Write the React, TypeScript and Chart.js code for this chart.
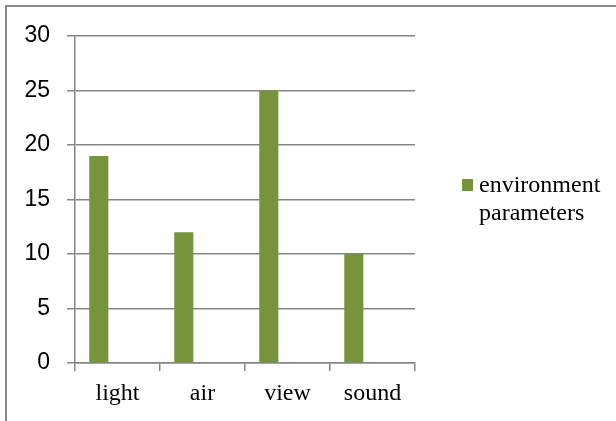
import React, { useEffect, useRef } from "react";
import { Chart, registerables } from "chart.js";

Chart.register(...registerables);

const categories = ["light", "air", "view", "sound"];
const seriesLabel = "environment parameters";
const seriesValues = [19, 12, 25, 10];
const yTickValues = [0, 5, 10, 15, 20, 25, 30];

const BAR_COLOR = "#77933C";
const GRID_COLOR = "#868686";
const SERIF = "'Liberation Serif', 'Times New Roman', serif";
const SANS = "'Liberation Sans', Arial, sans-serif";

export default function App() {
  const ref = useRef<HTMLCanvasElement>(null);

  useEffect(() => {
    if (!ref.current) return;

    const framePlugin = {
      id: "frame",
      beforeDraw(chart: any) {
        const ctx = chart.ctx;
        ctx.save();
        ctx.fillStyle = "#ffffff";
        ctx.fillRect(0, 0, chart.width, chart.height);
        ctx.strokeStyle = "#8c8c8c";
        ctx.lineWidth = 2;
        ctx.strokeRect(6, 6, 2000, 2000);
        ctx.restore();
      },
    };

    const legendPlugin = {
      id: "wrapLegend",
      afterDraw(chart: any) {
        const ctx = chart.ctx;
        const ds = chart.data.datasets[0];
        const lines = String(ds.label).split(" ");
        const x0 = chart.chartArea.right + 47;
        ctx.save();
        ctx.fillStyle = ds.backgroundColor;
        ctx.fillRect(x0, 179, 11, 12);
        ctx.fillStyle = "#000";
        ctx.font = `24px ${SERIF}`;
        ctx.textBaseline = "alphabetic";
        ctx.textAlign = "left";
        lines.forEach((t, i) => ctx.fillText(t, x0 + 17, 192 + i * 28));
        ctx.restore();
      },
    };

    const chart = new Chart(ref.current, {
      type: "bar",
      data: {
        labels: categories,
        datasets: [
          {
            label: seriesLabel,
            data: seriesValues,
            backgroundColor: BAR_COLOR,
            categoryPercentage: 0.88,
            barPercentage: 0.51,
          },
          {
            label: "",
            data: categories.map(() => null),
            backgroundColor: "rgba(0,0,0,0)",
            categoryPercentage: 0.88,
            barPercentage: 0.51,
          },
        ],
      },
      options: {
        animation: false,
        responsive: false,
        maintainAspectRatio: false,
        layout: { padding: { left: 0, top: 36, right: 201, bottom: 0 } },
        plugins: {
          legend: { display: false },
          tooltip: { enabled: false },
        },
        scales: {
          x: {
            grid: {
              display: true,
              drawOnChartArea: false,
              drawTicks: true,
              tickLength: 8,
              color: GRID_COLOR,
              lineWidth: 1.5,
            },
            border: { display: true, color: GRID_COLOR, width: 1.5 },
            ticks: {
              color: "#000",
              font: { family: SERIF, size: 24 },
              padding: 8,
              maxRotation: 0,
            },
            afterFit: (s: any) => {
              s.height = 58;
            },
          },
          y: {
            min: 0,
            max: 30,
            afterBuildTicks: (s: any) => {
              s.ticks = yTickValues.map((v) => ({ value: v }));
            },
            grid: {
              color: GRID_COLOR,
              lineWidth: 1.5,
              tickLength: 8,
              drawTicks: true,
            },
            border: { display: true, color: GRID_COLOR, width: 1.5 },
            ticks: {
              color: "#000",
              font: { family: SANS, size: 23 },
              padding: 17,
            },
            afterFit: (s: any) => {
              s.width = 75;
            },
          },
        },
      },
      plugins: [framePlugin, legendPlugin],
    });

    return () => chart.destroy();
  }, []);

  return (
    <div
      style={{
        position: "fixed",
        left: 0,
        top: 0,
        width: 616,
        height: 421,
        overflow: "hidden",
        background: "#fff",
      }}
    >
      <canvas
        ref={ref}
        width={616}
        height={421}
        style={{ display: "block", width: 616, height: 421 }}
      />
    </div>
  );
}
